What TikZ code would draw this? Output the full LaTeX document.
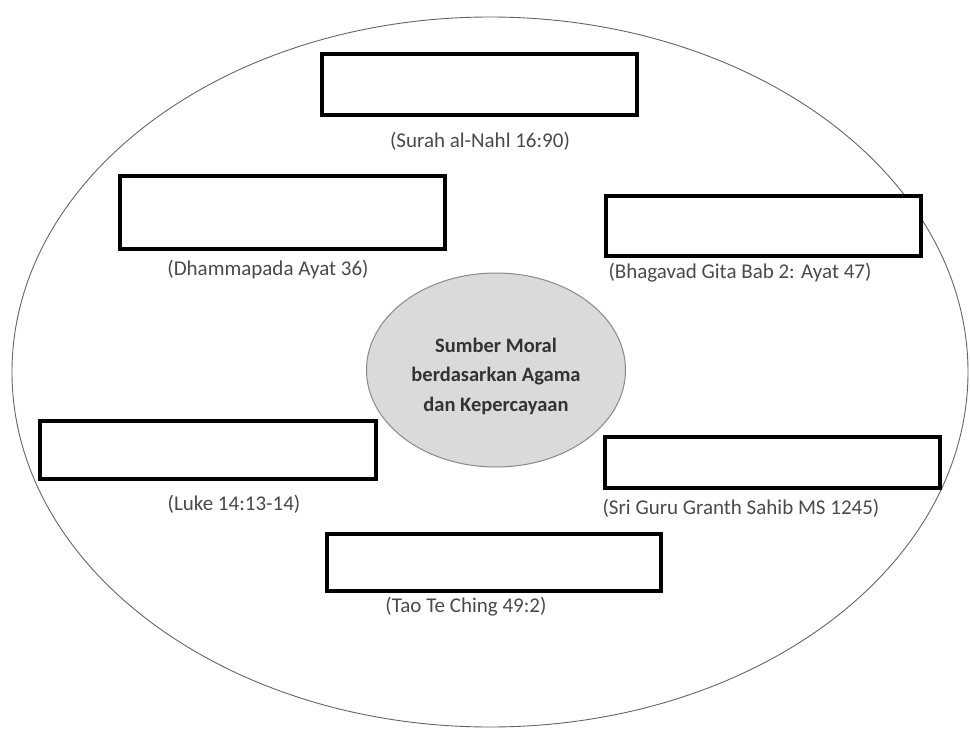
\documentclass[tikz,border=0pt]{standalone}
\usepackage{fontspec}
\setmainfont{Carlito}
\usetikzlibrary{shapes.geometric}
\definecolor{lbl}{HTML}{4A4A4A}
\definecolor{hubfill}{HTML}{DADADA}
\definecolor{hubline}{HTML}{8A8A8A}
\begin{document}
\begin{tikzpicture}[x=1pt,y=-1pt,
  blank/.style={draw=black,line width=4.5pt,fill=white},
  ref/.style={text=lbl,font=\fontsize{21}{24}\selectfont,inner sep=0pt},
  hub/.style={ellipse,draw=hubline,line width=1pt,fill=hubfill,minimum width=259pt,minimum height=194pt,inner sep=0pt},
  hubtext/.style={align=center,inner sep=0pt,text=black!80,font=\bfseries\fontsize{20.5}{29.5}\selectfont}]
\useasboundingbox (0,0) rectangle (970,731);
\fill[white] (0,0) rectangle (970,731);
\node[ellipse,draw=black!60,line width=0.9pt,minimum width=956pt,minimum height=710pt,inner sep=0pt] (outer) at (490,372) {};
\node[hub] (hub) at (496,370) {};
\node[hubtext] (hubtxt) at ([yshift=-6pt]hub.center) {Sumber Moral\\berdasarkan Agama\\dan Kepercayaan};
% boxes
\draw[blank] (322,54) rectangle (637,115) node[coordinate] (b1) {};
\draw[blank] (120,176) rectangle (445,249) node[coordinate] (b2) {};
\draw[blank] (606,196) rectangle (921,256) node[coordinate] (b3) {};
\draw[blank] (40,421) rectangle (376,479) node[coordinate] (b4) {};
\draw[blank] (605,437) rectangle (940,488) node[coordinate] (b5) {};
\draw[blank] (327,534) rectangle (661,591) node[coordinate] (b6) {};
% labels
\node[ref] (l1) at (480,141) {(Surah al-Nahl 16:90)};
\node[ref] (l2) at (268,270) {(Dhammapada Ayat 36)};
\node[ref] (l3) at (740,273) {(Bhagavad Gita Bab 2: Ayat 47)};
\node[ref] (l4) at (234,504) {(Luke 14:13-14)};
\node[ref] (l5) at (741,508) {(Sri Guru Granth Sahib MS 1245)};
\node[ref] (l6) at (466,607) {(Tao Te Ching 49:2)};
\end{tikzpicture}
\end{document}
